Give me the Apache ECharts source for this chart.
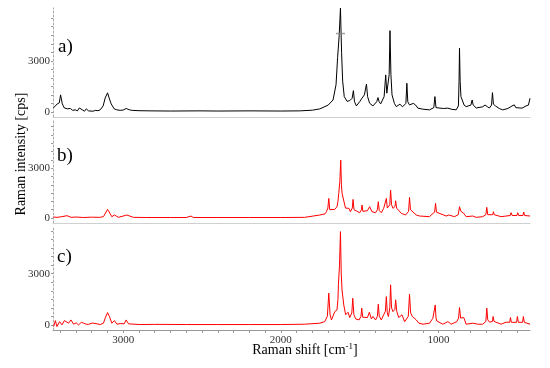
<!DOCTYPE html>
<html>
<head>
<meta charset="utf-8">
<style>html,body{margin:0;padding:0;background:#fff}#c{width:550px;height:368px}</style>
<script src="https://cdn.jsdelivr.net/npm/echarts@6/dist/echarts.min.js"></script>
</head>
<body>
<div id="c"></div>
<script>
// Raman shift (cm-1), intensity (cps)
var spectrumA = [[3443,230],[3430,350],[3418,470],[3405,530],[3397,1000],[3386,470],[3373,230],[3354,180],[3335,200],[3320,90],[3304,120],[3290,60],[3278,230],[3259,120],[3245,40],[3234,180],[3220,60],[3209,90],[3190,40],[3177,90],[3160,70],[3146,120],[3127,350],[3114,820],[3099,1120],[3089,820],[3076,470],[3057,180],[3040,120],[3019,90],[3000,110],[2981,200],[2960,120],[2943,90],[2900,70],[2829,60],[2700,50],[2513,60],[2400,50],[2196,60],[2000,50],[1880,60],[1800,100],[1753,176],[1700,400],[1669,700],[1650,1600],[1640,3200],[1630,4500],[1622,6090],[1615,3500],[1608,1800],[1598,900],[1580,620],[1563,660],[1548,800],[1540,1250],[1533,600],[1521,350],[1500,600],[1489,760],[1470,1000],[1462,1400],[1457,1630],[1450,900],[1437,510],[1416,350],[1392,600],[1384,840],[1377,600],[1367,470],[1345,900],[1335,2170],[1328,1100],[1320,1000],[1313,2200],[1308,4770],[1302,2200],[1295,1000],[1280,500],[1268,310],[1245,450],[1236,510],[1228,300],[1222,220],[1207,500],[1201,1680],[1195,600],[1184,410],[1160,500],[1152,600],[1145,400],[1131,220],[1100,160],[1057,120],[1030,250],[1023,900],[1016,250],[1004,160],[970,200],[941,220],[915,150],[888,120],[874,350],[870,1800],[867,3740],[863,1800],[858,900],[850,700],[838,400],[825,310],[795,400],[787,700],[780,400],[761,230],[720,300],[705,400],[698,510],[690,300],[677,230],[664,400],[658,1130],[652,450],[639,350],[615,200],[593,120],[560,200],[534,350],[526,300],[519,410],[510,250],[498,160],[470,220],[445,350],[430,400],[420,800]];
var spectrumB = [[3443,60],[3420,40],[3390,80],[3356,140],[3330,40],[3300,60],[3250,30],[3200,50],[3150,40],[3125,80],[3099,520],[3085,300],[3072,80],[3055,180],[3030,40],[2977,180],[2935,40],[2850,30],[2700,30],[2600,30],[2570,120],[2555,30],[2400,30],[2200,30],[2000,30],[1850,40],[1753,180],[1720,250],[1711,380],[1702,600],[1696,1180],[1690,500],[1684,380],[1658,520],[1644,680],[1638,1000],[1633,1480],[1626,2200],[1620,3480],[1616,2000],[1612,1500],[1605,1200],[1601,1080],[1590,600],[1584,480],[1568,580],[1559,380],[1547,600],[1542,1120],[1536,500],[1525,380],[1500,320],[1489,500],[1485,780],[1480,400],[1473,320],[1451,440],[1437,680],[1422,380],[1399,320],[1388,500],[1382,980],[1376,450],[1363,320],[1348,580],[1336,700],[1331,1180],[1325,600],[1321,480],[1309,800],[1304,1680],[1298,800],[1289,580],[1276,700],[1272,1040],[1266,600],[1258,480],[1236,280],[1226,380],[1209,180],[1190,400],[1184,1240],[1178,500],[1166,380],[1141,180],[1120,120],[1057,80],[1042,220],[1025,350],[1019,880],[1013,350],[1004,240],[951,120],[935,180],[899,80],[875,200],[867,680],[858,400],[850,380],[840,280],[825,80],[783,120],[761,40],[720,80],[700,200],[694,640],[688,200],[677,120],[656,200],[652,380],[647,200],[635,120],[603,80],[572,120],[545,150],[540,320],[533,150],[525,80],[503,150],[498,320],[492,150],[483,80],[465,150],[460,360],[454,150],[445,80],[420,120]];
var spectrumC = [[3441,-100],[3430,250],[3420,-100],[3403,190],[3388,0],[3373,250],[3361,330],[3346,100],[3331,290],[3314,40],[3298,120],[3283,0],[3265,150],[3251,100],[3235,40],[3220,30],[3195,110],[3166,60],[3145,20],[3125,100],[3112,450],[3099,720],[3087,490],[3072,100],[3055,250],[3040,40],[3015,80],[2994,60],[2981,290],[2966,60],[2892,20],[2800,30],[2600,20],[2400,20],[2200,20],[2000,20],[1850,40],[1753,100],[1722,190],[1705,500],[1696,1860],[1688,600],[1679,290],[1658,780],[1644,880],[1638,1500],[1635,2350],[1628,3500],[1622,5470],[1617,3000],[1612,2050],[1601,1170],[1589,590],[1574,740],[1563,430],[1550,700],[1544,1560],[1537,600],[1525,350],[1504,290],[1492,500],[1487,980],[1481,450],[1473,350],[1451,430],[1439,740],[1426,350],[1416,490],[1399,290],[1388,500],[1382,1210],[1376,500],[1363,290],[1348,590],[1337,800],[1331,1660],[1325,700],[1318,490],[1309,1000],[1304,2350],[1298,1000],[1289,780],[1277,900],[1272,1470],[1265,800],[1253,430],[1232,590],[1215,190],[1192,500],[1184,1800],[1177,700],[1166,490],[1141,290],[1125,100],[1099,40],[1057,100],[1036,390],[1026,500],[1021,1170],[1016,400],[1011,230],[973,40],[941,190],[920,40],[884,190],[873,400],[867,1020],[860,400],[850,290],[840,430],[825,40],[783,100],[772,190],[751,40],[720,40],[700,200],[694,980],[688,300],[677,160],[658,200],[654,490],[648,200],[639,100],[603,40],[572,160],[549,150],[544,430],[538,150],[530,100],[505,150],[500,490],[494,150],[487,100],[467,150],[462,490],[456,150],[449,100],[420,40]];
var markerA = [[1622,4600]];
var xTickLabels = [1000, 2000, 3000];
var yTickLabels = [0, 3000];
var panelLabels = ['a)', 'b)', 'c)'];

var serif = '"Liberation Serif", "DejaVu Serif", serif';
var plain = function (v) { return String(v); };
var xMinorTicks = [];
for (var v = 500; v <= 3400; v += 100) xMinorTicks.push(v);
var yTicks = [];
for (var t = 0; t <= 5500; t += 500) yTicks.push(t);

var grids = [
  {left: 53, right: 20, top: 8, height: 109},
  {left: 53, right: 20, top: 120, height: 103},
  {left: 53, right: 20, top: 226, height: 104}
];
var yRanges = [[-300, 6100], [-300, 5900], [-300, 5800]];

var xAxes = [0, 1, 2].map(function (i) {
  var last = i === 2;
  return {
    type: 'value', gridIndex: i, inverse: true, min: 420, max: 3445,
    splitLine: {show: false},
    axisLine: {show: true, onZero: false, lineStyle: {color: last ? '#999' : '#d0d0d0', width: 1}},
    axisTick: last ? {show: true, customValues: xMinorTicks, length: 3, lineStyle: {color: '#999'}} : {show: false},
    axisLabel: last ? {show: true, customValues: xTickLabels, formatter: plain, fontFamily: serif, fontSize: 11, color: '#333', margin: 5} : {show: false}
  };
});
var yAxes = [0, 1, 2].map(function (i) {
  return {
    type: 'value', gridIndex: i, min: yRanges[i][0], max: yRanges[i][1],
    splitLine: {show: false},
    axisLine: {show: true, lineStyle: {color: '#aaa', width: 1, type: [2, 2]}},
    axisTick: {show: true, customValues: yTicks, length: 2, lineStyle: {color: '#999'}},
    axisLabel: {show: true, customValues: yTickLabels, formatter: plain, fontFamily: serif, fontSize: 11, color: '#333', margin: 3}
  };
});

var chart = echarts.init(document.getElementById('c'), null, {renderer: 'canvas'});
chart.setOption({
  animation: false,
  backgroundColor: '#fff',
  grid: grids,
  xAxis: xAxes,
  yAxis: yAxes,
  series: [
    {type: 'line', xAxisIndex: 0, yAxisIndex: 0, data: spectrumA, symbol: 'none', lineStyle: {color: '#000', width: 1}},
    {type: 'line', xAxisIndex: 1, yAxisIndex: 1, data: spectrumB, symbol: 'none', lineStyle: {color: '#ff0000', width: 1}},
    {type: 'line', xAxisIndex: 2, yAxisIndex: 2, data: spectrumC, symbol: 'none', lineStyle: {color: '#ff0000', width: 1}},
    {type: 'scatter', xAxisIndex: 0, yAxisIndex: 0, data: markerA, symbol: 'rect', symbolSize: [9, 1.5], itemStyle: {color: '#888'}, z: 5}
  ],
  graphic: [
    {type: 'text', left: 58, top: 38, style: {text: panelLabels[0], font: '19px ' + serif, fill: '#000'}},
    {type: 'text', left: 57, top: 147, style: {text: panelLabels[1], font: '19px ' + serif, fill: '#000'}},
    {type: 'text', left: 57, top: 248, style: {text: panelLabels[2], font: '19px ' + serif, fill: '#000'}},
    {type: 'text', x: 21, y: 154, rotation: Math.PI / 2,
      style: {text: 'Raman intensity [cps]', font: '14px ' + serif, fill: '#000', align: 'center', verticalAlign: 'middle'}},
    {type: 'text', x: 305, y: 350,
      style: {text: 'Raman shift [cm{s|-1}]', font: '14px ' + serif, fill: '#000', align: 'center', verticalAlign: 'middle',
        rich: {s: {fontSize: 9, fontFamily: serif, verticalAlign: 'top', padding: [0, 0, 6, 0]}}}}
  ]
});
</script>
</body>
</html>
